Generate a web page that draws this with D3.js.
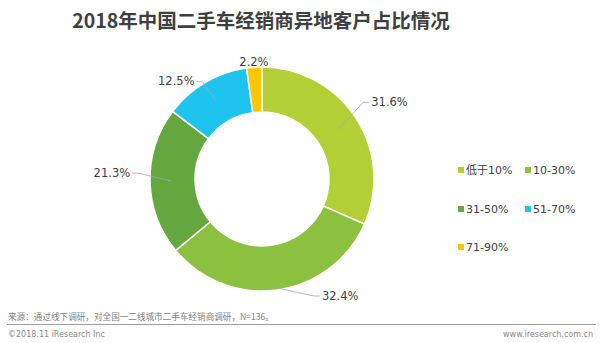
<!DOCTYPE html>
<html><head><meta charset="utf-8">
<script src="https://cdn.jsdelivr.net/npm/d3@7/dist/d3.min.js"></script>
<style>
html,body{margin:0;padding:0;background:#fff;}
svg{display:block;}
</style></head>
<body>
<svg id="chart" width="600" height="343"></svg>
<script>
const categories = ["低于10%", "10-30%", "31-50%", "51-70%", "71-90%"];
const values = [31.6, 32.4, 21.3, 12.5, 2.2];
const valueLabels = ["31.6%", "32.4%", "21.3%", "12.5%", "2.2%"];
const title = "2018年中国二手车经销商异地客户占比情况";
const sourceNote = "来源：通过线下调研，对全国一二线城市二手车经销商调研，N=136。";
const copyright = "©2018.11 iResearch Inc";
const website = "www.iresearch.com.cn";

const colors = ["#b3cf35", "#8cc03f", "#64a83f", "#1ec3ee", "#fcc700"];
// label layout tweaks (degrees nudge and elbow radius)
const labelNudge = [-4, -16, 4, -1, 0];
const labelRad = [127, 128, 124, 114, 117];

const svg = d3.select("#chart");
const font = "'DejaVu Sans', Verdana, 'Noto Sans CJK SC', sans-serif";
const cjk = "'Noto Sans CJK SC', 'Noto Sans', sans-serif";

svg.append("text").attr("x", 261).attr("y", 23)
  .attr("text-anchor", "middle").attr("dominant-baseline", "middle")
  .attr("font-family", cjk).attr("font-weight", "bold").attr("font-size", 19.5)
  .attr("fill", "#3f3f3f").text(title);

const cx = 262, cy = 179, rOut = 112, rIn = 67;
const g = svg.append("g").attr("transform", `translate(${cx},${cy})`);
const pie = d3.pie().sort(null).value(d => d).startAngle(0).endAngle(2 * Math.PI);
const arcs = pie(values);
const arc = d3.arc().innerRadius(rIn).outerRadius(rOut);

g.selectAll("path.slice").data(arcs).join("path")
  .attr("class", "slice")
  .attr("d", arc)
  .attr("fill", (d, i) => colors[i])
  .attr("stroke", "#fff").attr("stroke-width", 1.5);

function polar(r, a) { return [r * Math.sin(a), -r * Math.cos(a)]; }

arcs.forEach((d, i) => {
  const mid = (d.startAngle + d.endAngle) / 2;
  const a2 = mid + labelNudge[i] * Math.PI / 180;
  const e = polar(labelRad[i], a2);
  const right = Math.sin(a2) > 0.05;
  if (values[i] < 5) {
    g.append("text").attr("x", e[0]).attr("y", e[1])
      .attr("text-anchor", "middle").attr("dominant-baseline", "middle")
      .attr("font-family", font).attr("font-size", 11.5).attr("fill", "#404040")
      .text(valueLabels[i]);
    return;
  }
  const s = polar(i === 1 ? 110 : 91, mid);
  const hx = e[0] + (right ? 6 : -6);
  g.append("polyline")
    .attr("points", [s, e, [hx, e[1]]].map(p => p.join(",")).join(" "))
    .attr("fill", "none").attr("stroke", "#a6a6a6").attr("stroke-width", 0.8);
  g.append("text").attr("x", hx + (right ? 2 : -2)).attr("y", e[1])
    .attr("text-anchor", right ? "start" : "end").attr("dominant-baseline", "middle")
    .attr("font-family", font).attr("font-size", 11.5).attr("fill", "#404040")
    .text(valueLabels[i]);
});

// legend
const legX = [458, 525], legY = [170, 209, 247];
categories.forEach((c, i) => {
  const x = legX[i % 2], y = legY[Math.floor(i / 2)];
  svg.append("rect").attr("x", x).attr("y", y - 3).attr("width", 6).attr("height", 6)
    .attr("fill", colors[i]);
  svg.append("text").attr("x", x + 8).attr("y", y + 0.5)
    .attr("dominant-baseline", "middle")
    .attr("font-family", font).attr("font-size", 11).attr("fill", "#404040")
    .text(c);
});

// footer
svg.append("text").attr("x", 8).attr("y", 318).attr("dominant-baseline", "middle")
  .attr("font-family", cjk).attr("font-size", 8.6).attr("fill", "#7f7f7f").text(sourceNote);
svg.append("line").attr("x1", 7).attr("x2", 596).attr("y1", 324.5).attr("y2", 324.5)
  .attr("stroke", "#a0a0a0").attr("stroke-width", 1.2);
svg.append("text").attr("x", 8).attr("y", 334).attr("dominant-baseline", "middle")
  .attr("font-family", font).attr("font-size", 8).attr("fill", "#8a8a8a").text(copyright);
svg.append("text").attr("x", 593).attr("y", 334).attr("dominant-baseline", "middle")
  .attr("text-anchor", "end")
  .attr("font-family", font).attr("font-size", 8).attr("fill", "#8a8a8a").text(website);
</script>
</body></html>
